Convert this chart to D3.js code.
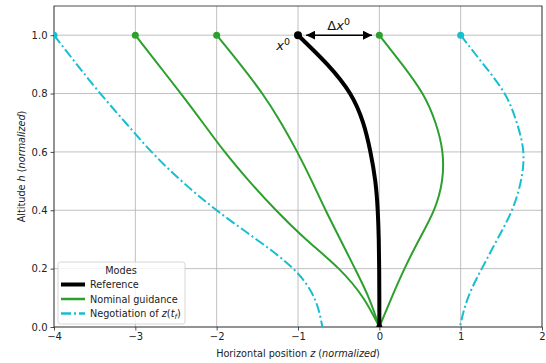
<!DOCTYPE html>
<html><head><meta charset="utf-8">
<script src="https://cdn.jsdelivr.net/npm/d3@7"></script>
<style>body{margin:0;background:#fff}svg{display:block;font-family:"DejaVu Sans",sans-serif}</style>
</head><body><svg id="c" width="546" height="363"></svg>
<script>
// ---- data ----
const xTicks = [-4, -3, -2, -1, 0, 1, 2];
const yTicks = [0.0, 0.2, 0.4, 0.6, 0.8, 1.0];

// altitude samples shared by all curves
const hLevels = [1.0, 0.9, 0.8, 0.7, 0.6, 0.5, 0.4, 0.3, 0.2, 0.1, 0.0];

const refZ = [-1.0, -0.64, -0.36, -0.20, -0.11, -0.05, -0.02, -0.007, -0.002, 0.0, 0.0];
const g1Z  = [-3.0, -2.72, -2.44, -2.17, -1.90, -1.60, -1.27, -0.90, -0.50, -0.20, 0.0];
const g2Z  = [-2.0, -1.71, -1.44, -1.21, -1.01, -0.83, -0.66, -0.48, -0.30, -0.13, 0.0];
const g3Z  = [0.0, 0.28, 0.53, 0.69, 0.775, 0.77, 0.67, 0.49, 0.31, 0.15, 0.0];
const c1Z  = [-4.0, -3.72, -3.43, -3.12, -2.80, -2.43, -2.0, -1.51, -1.06, -0.80, -0.70];
const c2Z  = [1.0, 1.28, 1.54, 1.69, 1.77, 1.74, 1.63, 1.45, 1.26, 1.09, 0.99];

const legendLabels = ["Reference", "Nominal guidance", "Negotiation of z(t_f)"];

// ---- layout ----
const W = 546, H = 363;
const m = {l: 54, r: 4, t: 6, b: 36};
const svg = d3.select("#c");
const x = d3.scaleLinear().domain([-4, 2]).range([m.l, W - m.r]);
const y = d3.scaleLinear().domain([0, 1.1]).range([H - m.b, m.t]);

const GREEN = "#2ca02c", CYAN = "#17becf";

const defs = svg.append("defs");
defs.append("clipPath").attr("id", "clip")
  .append("rect").attr("x", m.l).attr("y", m.t).attr("width", W - m.l - m.r).attr("height", H - m.t - m.b);

// grid
const grid = svg.append("g").attr("stroke", "#b0b0b0").attr("stroke-width", 0.8);
xTicks.forEach(t => grid.append("line").attr("x1", x(t)).attr("x2", x(t)).attr("y1", m.t).attr("y2", H - m.b));
yTicks.forEach(t => grid.append("line").attr("x1", m.l).attr("x2", W - m.r).attr("y1", y(t)).attr("y2", y(t)));

// axes
const xa = svg.append("g").attr("transform", `translate(0,${H - m.b})`)
  .call(d3.axisBottom(x).tickValues(xTicks).tickSize(3.5).tickPadding(2).tickFormat(d => d < 0 ? "\u2212" + Math.abs(d) : d));
const ya = svg.append("g").attr("transform", `translate(${m.l},0)`)
  .call(d3.axisLeft(y).tickValues(yTicks).tickSize(3.5).tickPadding(3).tickFormat(d3.format(".1f")));
[xa, ya].forEach(a => {
  a.select(".domain").remove();
  a.selectAll("text").attr("font-size", 10).attr("fill", "#222").attr("font-family", "DejaVu Sans");
  a.selectAll("line").attr("stroke", "#222").attr("stroke-width", 0.8);
});

// frame
svg.append("rect").attr("x", m.l).attr("y", m.t).attr("width", W - m.l - m.r).attr("height", H - m.t - m.b)
  .attr("fill", "none").attr("stroke", "#222").attr("stroke-width", 0.8);

// curves
const line = d3.line().x(d => x(d[0])).y(d => y(d[1])).curve(d3.curveNatural);
const zip = Z => Z.map((z, i) => [z, hLevels[i]]);
const plot = svg.append("g").attr("clip-path", "url(#clip)");

const series = [
  {Z: c1Z, color: CYAN, w: 2, dash: "10,3,2,3"},
  {Z: c2Z, color: CYAN, w: 2, dash: "10,3,2,3"},
  {Z: g1Z, color: GREEN, w: 2, dash: null},
  {Z: g2Z, color: GREEN, w: 2, dash: null},
  {Z: g3Z, color: GREEN, w: 2, dash: null},
  {Z: refZ, color: "#000", w: 4, dash: null}
];
series.forEach(s => {
  plot.append("path").attr("d", line(zip(s.Z))).attr("fill", "none")
    .attr("stroke", s.color).attr("stroke-width", s.w).attr("stroke-dasharray", s.dash);
  plot.append("circle").attr("cx", x(s.Z[0])).attr("cy", y(hLevels[0])).attr("r", s.color === "#000" ? 4 : 3.5).attr("fill", s.color);
});
plot.append("circle").attr("cx", x(refZ[refZ.length - 1])).attr("cy", y(0)).attr("r", 3).attr("fill", "#000");

// annotations
defs.append("marker").attr("id", "ah").attr("viewBox", "0 0 10 10").attr("refX", 10).attr("refY", 5)
  .attr("markerWidth", 9).attr("markerHeight", 9).attr("markerUnits", "userSpaceOnUse").attr("orient", "auto-start-reverse")
  .append("path").attr("d", "M0,0 L10,5 L0,10 z").attr("fill", "#000");
svg.append("line").attr("x1", x(-0.9)).attr("x2", x(-0.09)).attr("y1", y(1.0)).attr("y2", y(1.0))
  .attr("stroke", "#000").attr("stroke-width", 1.5)
  .attr("marker-start", "url(#ah)").attr("marker-end", "url(#ah)");

const t1 = svg.append("text").attr("x", (x(-1) + x(0)) / 2).attr("y", y(1.0) - 5).attr("text-anchor", "middle")
  .attr("font-size", 13).attr("fill", "#111");
t1.append("tspan").text("\u0394");
t1.append("tspan").attr("font-style", "italic").text("x");
t1.append("tspan").attr("font-size", 9.5).attr("dy", -5).text("0");

const t2 = svg.append("text").attr("x", x(-1) - 8).attr("y", y(1.0) + 15).attr("text-anchor", "end")
  .attr("font-size", 13).attr("fill", "#111");
t2.append("tspan").attr("font-style", "italic").text("x");
t2.append("tspan").attr("font-size", 9.5).attr("dy", -5).text("0");

// axis labels
const xl = svg.append("text").attr("x", (m.l + W - m.r) / 2).attr("y", 357).attr("text-anchor", "middle")
  .attr("font-size", 9.7).attr("fill", "#222");
xl.append("tspan").text("Horizontal position ");
xl.append("tspan").attr("font-style", "italic").text("z");
xl.append("tspan").text(" (");
xl.append("tspan").attr("font-style", "italic").text("normalized");
xl.append("tspan").text(")");

const yl = svg.append("text").attr("transform", `translate(25,${(m.t + H - m.b) / 2}) rotate(-90)`)
  .attr("text-anchor", "middle").attr("font-size", 9.7).attr("fill", "#222");
yl.append("tspan").text("Altitude ");
yl.append("tspan").attr("font-style", "italic").text("h");
yl.append("tspan").text(" (");
yl.append("tspan").attr("font-style", "italic").text("normalized");
yl.append("tspan").text(")");

// legend
const lg = svg.append("g");
lg.append("rect").attr("x", 58).attr("y", 262).attr("width", 127).attr("height", 62).attr("rx", 2.5)
  .attr("fill", "#fff").attr("fill-opacity", 0.8).attr("stroke", "#ccc").attr("stroke-width", 0.8);
lg.append("text").attr("x", 121).attr("y", 274).attr("text-anchor", "middle").attr("font-size", 9.7).attr("fill", "#222").text("Modes");
const legStyles = [
  {color: "#000", w: 4, dash: null},
  {color: GREEN, w: 2.5, dash: null},
  {color: CYAN, w: 2.5, dash: "10,3,2,3"}
];
const rowY = [284.5, 299, 313.5];
legendLabels.forEach((lab, i) => {
  lg.append("line").attr("x1", 61).attr("x2", 85).attr("y1", rowY[i]).attr("y2", rowY[i])
    .attr("stroke", legStyles[i].color).attr("stroke-width", legStyles[i].w).attr("stroke-dasharray", legStyles[i].dash);
  const t = lg.append("text").attr("x", 90).attr("y", rowY[i] + 3.5).attr("font-size", 9.7).attr("fill", "#222");
  if (lab.indexOf("z(t_f)") >= 0) {
    t.append("tspan").text("Negotiation of ");
    t.append("tspan").attr("font-style", "italic").text("z");
    t.append("tspan").text("(");
    t.append("tspan").attr("font-style", "italic").text("t");
    t.append("tspan").attr("font-style", "italic").attr("font-size", 7).attr("dy", 2).text("f");
    t.append("tspan").attr("dy", -2).text(")");
  } else {
    t.text(lab);
  }
});
</script>
</body></html>
